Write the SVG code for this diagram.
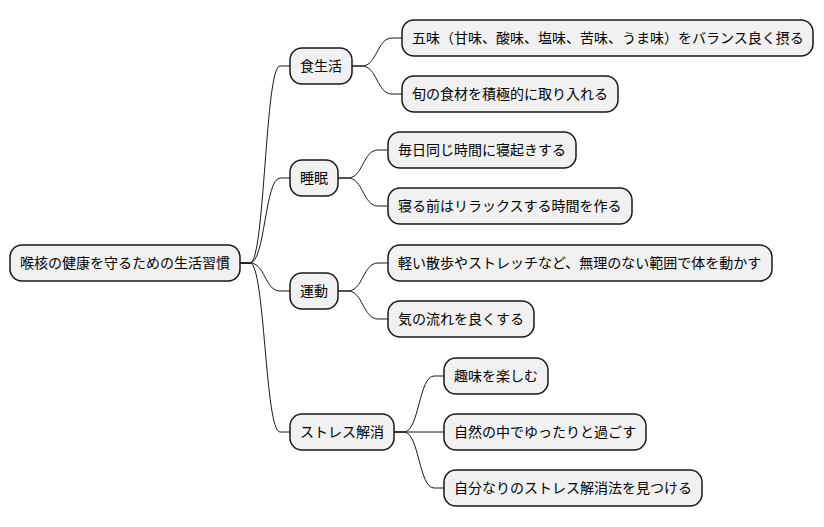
<svg xmlns="http://www.w3.org/2000/svg" width="824" height="527" viewBox="0 0 824 527">
<style>
.n rect{fill:#F1F1F1;stroke:#181818;stroke-width:1.5}
.n text{font-family:"Noto Sans CJK JP","Noto Sans",sans-serif;font-size:14px;fill:#000}
.c path{fill:none;stroke:#181818;stroke-width:1}
</style>
<rect width="824" height="527" fill="#FFFFFF"/>
<g class="c">
<path d="M240,263 L250,263 C265,263 265,66 280,66 L290,66"/>
<path d="M240,263 L250,263 C265,263 265,178 280,178 L290,178"/>
<path d="M240,263 L250,263 C265,263 265,291 280,291 L290,291"/>
<path d="M240,263 L250,263 C265,263 265,432 280,432 L290,432"/>
<path d="M352,66 L362,66 C377,66 377,38 392,38 L402,38"/>
<path d="M352,66 L362,66 C377,66 377,94 392,94 L402,94"/>
<path d="M338,178 L348,178 C363,178 363,150 378,150 L388,150"/>
<path d="M338,178 L348,178 C363,178 363,206 378,206 L388,206"/>
<path d="M338,291 L348,291 C363,291 363,263 378,263 L388,263"/>
<path d="M338,291 L348,291 C363,291 363,319 378,319 L388,319"/>
<path d="M394,432 L404,432 C419,432 419,376 434,376 L444,376"/>
<path d="M394,432 L444,432"/>
<path d="M394,432 L404,432 C419,432 419,488 434,488 L444,488"/>
</g>
<g id="root" class="n"><rect x="10" y="245" width="230" height="36" rx="12"/><text x="20" y="268">喉核の健康を守るための生活習慣</text></g>
<g id="shokuseikatsu" class="n"><rect x="290" y="48" width="62" height="36" rx="12"/><text x="300" y="71">食生活</text></g>
<g id="gomi" class="n"><rect x="402" y="20" width="411" height="36" rx="12"/><text x="412" y="43">五味（甘味、酸味、塩味、苦味、うま味）をバランス良く摂る</text></g>
<g id="shun" class="n"><rect x="402" y="76" width="216" height="36" rx="12"/><text x="412" y="99">旬の食材を積極的に取り入れる</text></g>
<g id="suimin" class="n"><rect x="290" y="160" width="48" height="36" rx="12"/><text x="300" y="183">睡眠</text></g>
<g id="mainichi" class="n"><rect x="388" y="132" width="188" height="36" rx="12"/><text x="398" y="155">毎日同じ時間に寝起きする</text></g>
<g id="nerumae" class="n"><rect x="388" y="188" width="244" height="36" rx="12"/><text x="398" y="211">寝る前はリラックスする時間を作る</text></g>
<g id="undou" class="n"><rect x="290" y="273" width="48" height="36" rx="12"/><text x="300" y="296">運動</text></g>
<g id="karui" class="n"><rect x="388" y="245" width="384" height="36" rx="12"/><text x="398" y="268">軽い散歩やストレッチなど、無理のない範囲で体を動かす</text></g>
<g id="ki" class="n"><rect x="388" y="301" width="146" height="36" rx="12"/><text x="398" y="324">気の流れを良くする</text></g>
<g id="stress" class="n"><rect x="290" y="414" width="104" height="36" rx="12"/><text x="300" y="437">ストレス解消</text></g>
<g id="shumi" class="n"><rect x="444" y="358" width="104" height="36" rx="12"/><text x="454" y="381">趣味を楽しむ</text></g>
<g id="shizen" class="n"><rect x="444" y="414" width="202" height="36" rx="12"/><text x="454" y="437">自然の中でゆったりと過ごす</text></g>
<g id="jibun" class="n"><rect x="444" y="470" width="258" height="36" rx="12"/><text x="454" y="493">自分なりのストレス解消法を見つける</text></g>
</svg>
